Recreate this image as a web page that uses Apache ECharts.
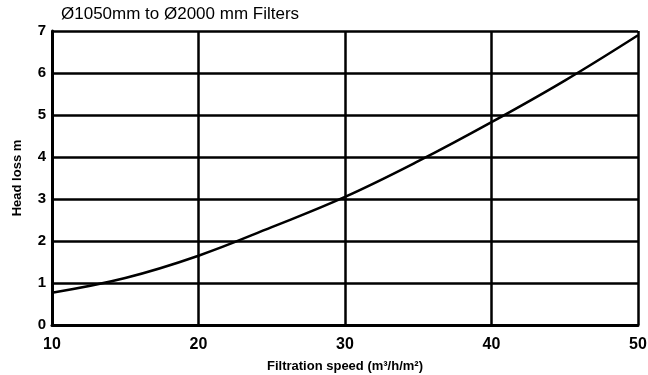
<!DOCTYPE html>
<html>
<head>
<meta charset="utf-8">
<script src="https://cdn.jsdelivr.net/npm/echarts@6/dist/echarts.min.js"></script>
<style>html,body{margin:0;padding:0;background:#fff}#c{width:648px;height:375px}</style>
</head>
<body>
<div id="c"></div>
<script>
const titleText = 'Ø1050mm to Ø2000 mm Filters';
const xName = 'Filtration speed (m³/h/m²)';
const yName = 'Head loss m';
const speed = [10, 15, 20, 25, 30, 35, 40, 45, 50];
const headLoss = [0.77, 1.12, 1.65, 2.33, 3.05, 3.9, 4.83, 5.82, 6.9];

const chart = echarts.init(document.getElementById('c'));
const font = 'Liberation Sans, Arial, sans-serif';
chart.setOption({
  animation: false,
  backgroundColor: '#fff',
  title: {
    text: titleText, left: 56, top: 1,
    textStyle: {fontFamily: font, fontSize: 17, fontWeight: 'normal', color: '#000'}
  },
  grid: {left: 52, right: 10, top: 31, bottom: 50, containLabel: false, outerBoundsMode: 'none'},
  xAxis: {
    type: 'value', min: 10, max: 50, interval: 10,
    name: xName, nameLocation: 'middle', nameGap: 35,
    nameTextStyle: {fontFamily: font, fontSize: 13, color: '#000', fontWeight: 'bold'},
    axisLine: {lineStyle: {color: '#000', width: 3}},
    axisTick: {show: false},
    axisLabel: {fontFamily: font, fontSize: 16, color: '#000', margin: 12, fontWeight: 'bold'},
    splitLine: {lineStyle: {color: '#000', width: 2.5}}
  },
  yAxis: {
    type: 'value', min: 0, max: 7, interval: 1,
    name: yName, nameLocation: 'middle', nameGap: 28,
    nameTextStyle: {fontFamily: font, fontSize: 13, color: '#000', fontWeight: 'bold'},
    axisLine: {show: true, lineStyle: {color: '#000', width: 3}},
    axisTick: {show: false},
    axisLabel: {fontFamily: font, fontSize: 15, color: '#000', margin: 6, fontWeight: 'bold'},
    splitLine: {lineStyle: {color: '#000', width: 2.5}}
  },
  series: [{
    type: 'line', smooth: 0.4, showSymbol: false,
    data: speed.map((s, i) => [s, headLoss[i]]),
    lineStyle: {color: '#000', width: 2.5}
  }]
});
</script>
</body>
</html>
